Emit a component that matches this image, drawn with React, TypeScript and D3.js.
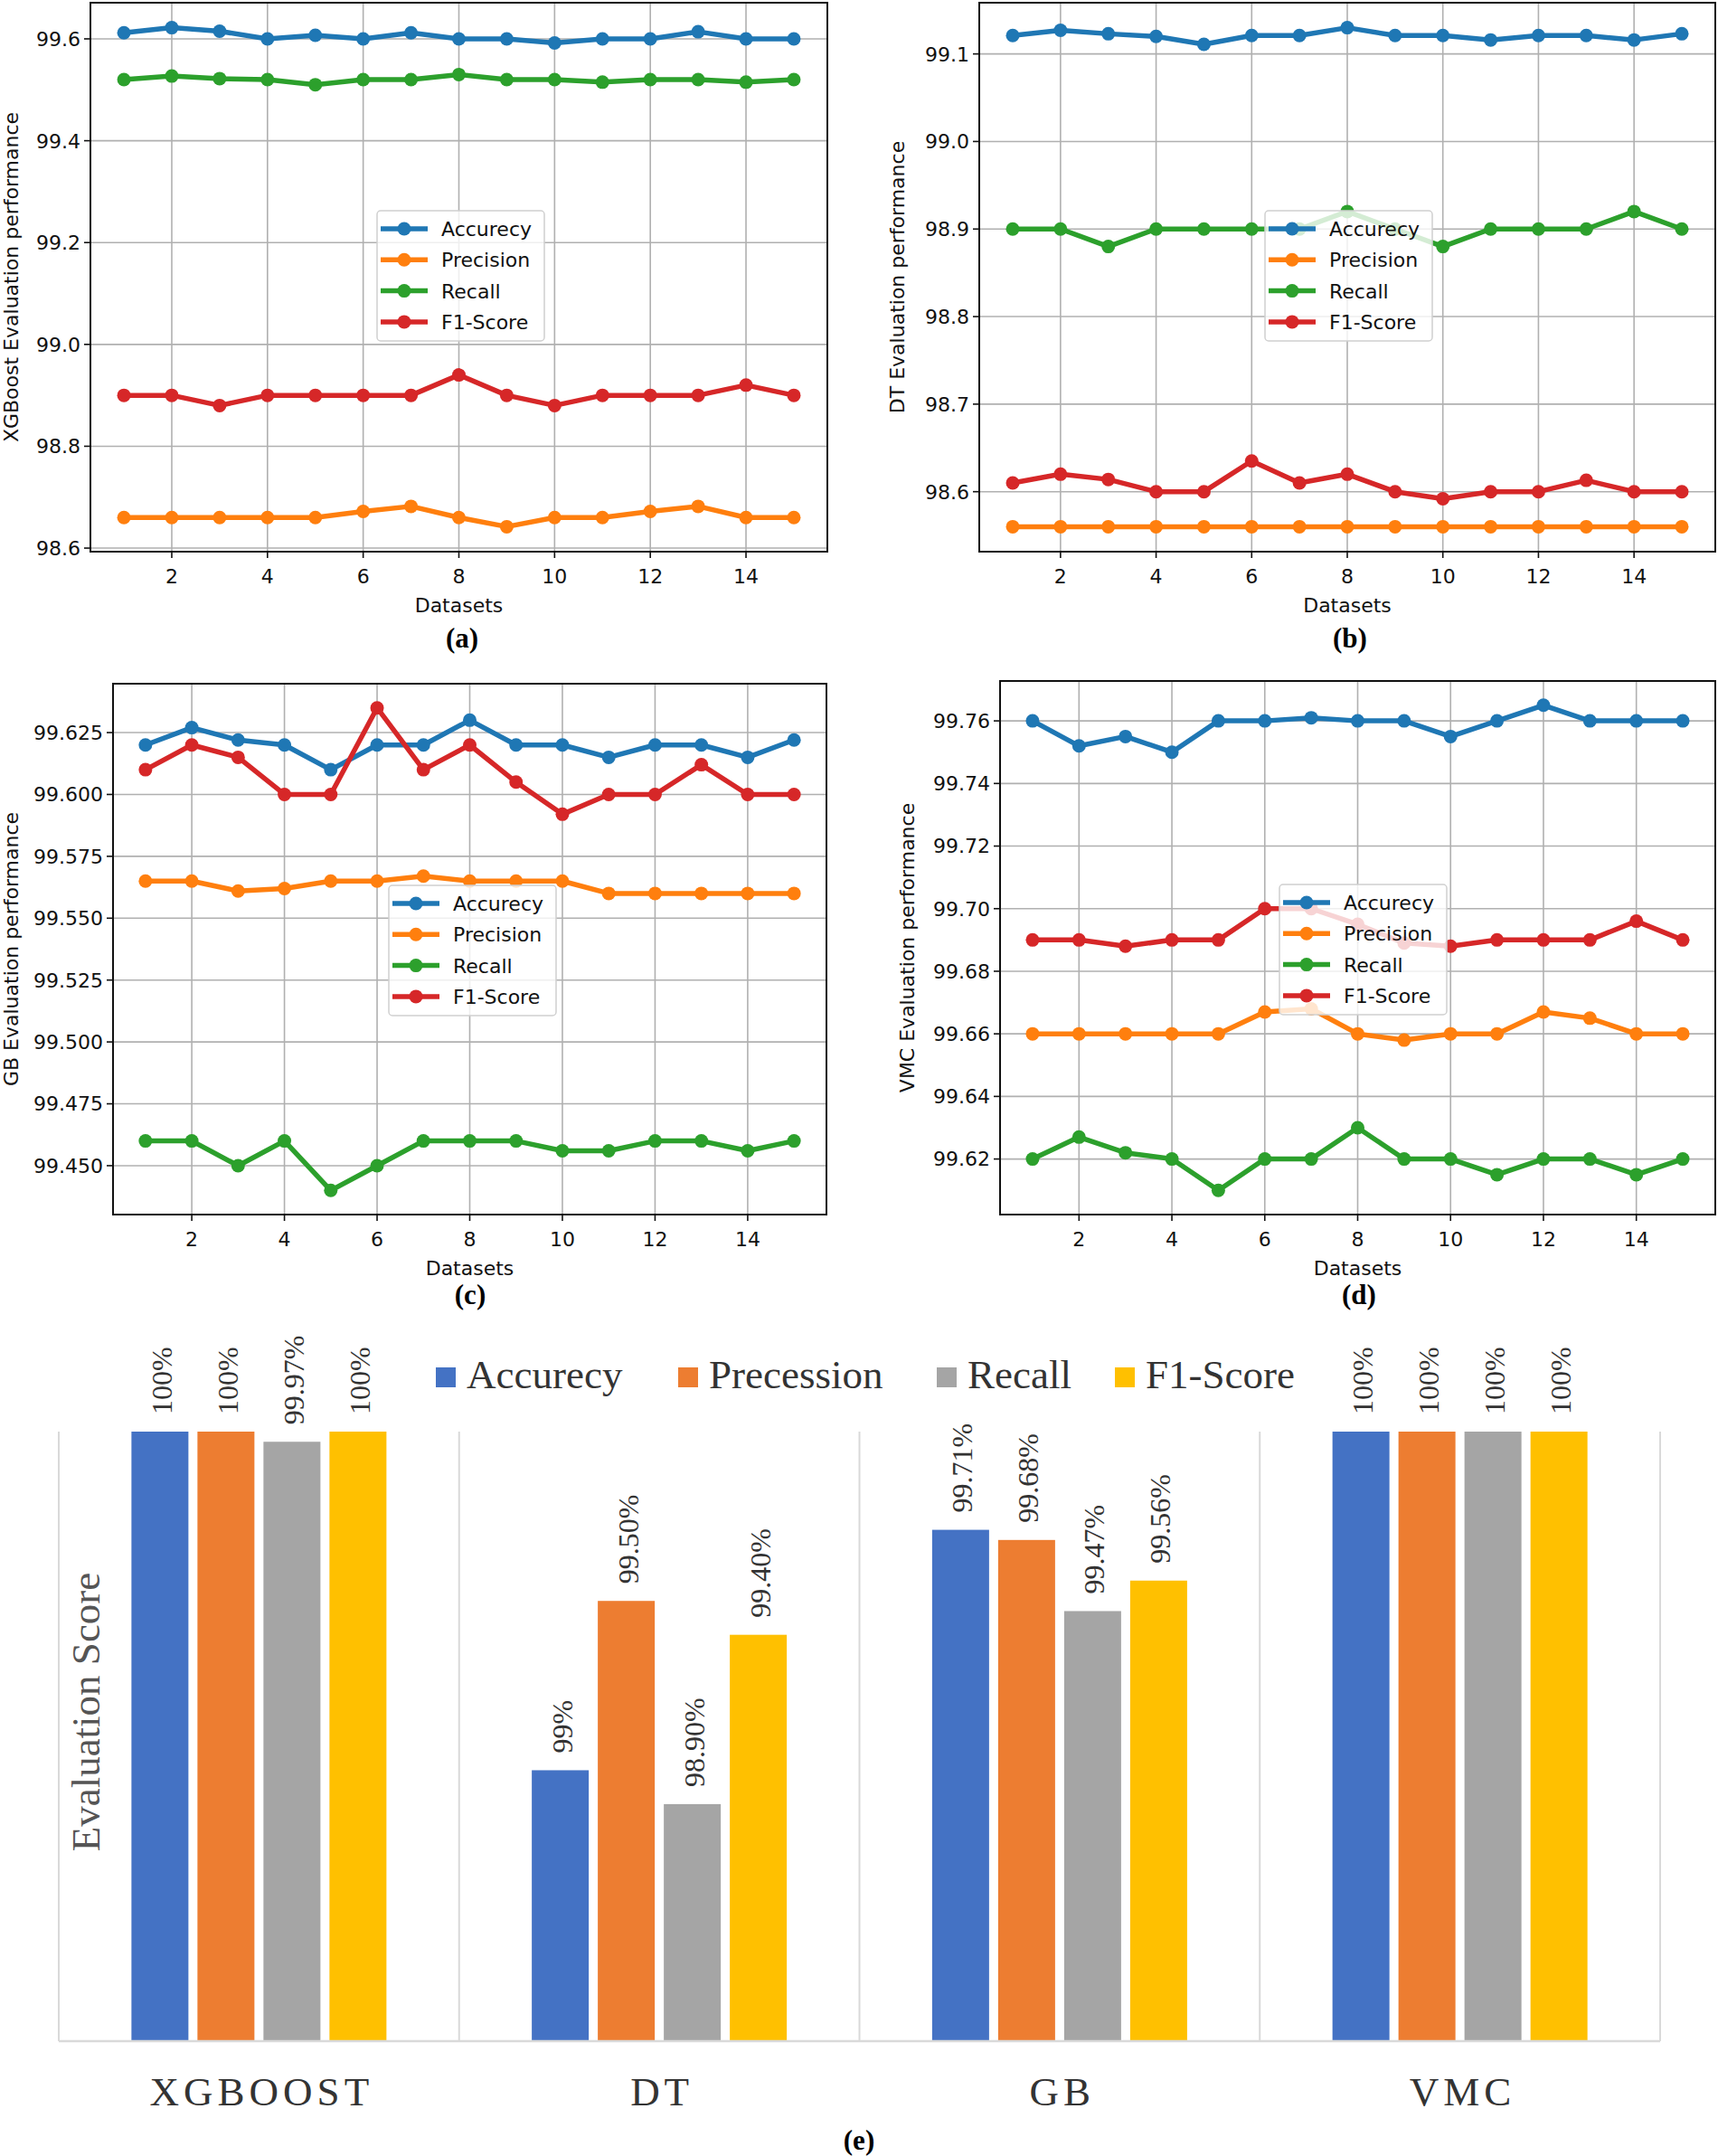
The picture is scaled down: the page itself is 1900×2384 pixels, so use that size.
import { useEffect, useRef } from 'react';
import * as d3 from 'd3';

// ---- line chart data (15 datasets, four metrics per model) ----
const datasets = [1, 2, 3, 4, 5, 6, 7, 8, 9, 10, 11, 12, 13, 14, 15];
const metricNames = ['Accurecy', 'Precision', 'Recall', 'F1-Score'];
const xTicks = [2, 4, 6, 8, 10, 12, 14];

const xgbAccuracy = [99.612, 99.622, 99.615, 99.6, 99.607, 99.6, 99.612, 99.6, 99.6, 99.592, 99.6, 99.6, 99.614, 99.6, 99.6];
const xgbPrecision = [98.66, 98.66, 98.66, 98.66, 98.66, 98.672, 98.682, 98.66, 98.642, 98.66, 98.66, 98.672, 98.682, 98.66, 98.66];
const xgbRecall = [99.52, 99.527, 99.522, 99.52, 99.51, 99.52, 99.52, 99.53, 99.52, 99.52, 99.515, 99.52, 99.52, 99.515, 99.52];
const xgbF1 = [98.9, 98.9, 98.88, 98.9, 98.9, 98.9, 98.9, 98.94, 98.9, 98.88, 98.9, 98.9, 98.9, 98.92, 98.9];
const xgbTicks = [98.6, 98.8, 99.0, 99.2, 99.4, 99.6];

const dtAccuracy = [99.121, 99.127, 99.123, 99.12, 99.111, 99.121, 99.121, 99.13, 99.121, 99.121, 99.116, 99.121, 99.121, 99.116, 99.123];
const dtPrecision = [98.56, 98.56, 98.56, 98.56, 98.56, 98.56, 98.56, 98.56, 98.56, 98.56, 98.56, 98.56, 98.56, 98.56, 98.56];
const dtRecall = [98.9, 98.9, 98.88, 98.9, 98.9, 98.9, 98.9, 98.92, 98.9, 98.88, 98.9, 98.9, 98.9, 98.92, 98.9];
const dtF1 = [98.61, 98.62, 98.614, 98.6, 98.6, 98.635, 98.61, 98.62, 98.6, 98.592, 98.6, 98.6, 98.613, 98.6, 98.6];
const dtTicks = [98.6, 98.7, 98.8, 98.9, 99.0, 99.1];

const gbAccuracy = [99.62, 99.627, 99.622, 99.62, 99.61, 99.62, 99.62, 99.63, 99.62, 99.62, 99.615, 99.62, 99.62, 99.615, 99.622];
const gbPrecision = [99.565, 99.565, 99.561, 99.562, 99.565, 99.565, 99.567, 99.565, 99.565, 99.565, 99.56, 99.56, 99.56, 99.56, 99.56];
const gbRecall = [99.46, 99.46, 99.45, 99.46, 99.44, 99.45, 99.46, 99.46, 99.46, 99.456, 99.456, 99.46, 99.46, 99.456, 99.46];
const gbF1 = [99.61, 99.62, 99.615, 99.6, 99.6, 99.635, 99.61, 99.62, 99.605, 99.592, 99.6, 99.6, 99.612, 99.6, 99.6];
const gbTicks = [99.45, 99.475, 99.5, 99.525, 99.55, 99.575, 99.6, 99.625];

const vmcAccuracy = [99.76, 99.752, 99.755, 99.75, 99.76, 99.76, 99.761, 99.76, 99.76, 99.755, 99.76, 99.765, 99.76, 99.76, 99.76];
const vmcPrecision = [99.66, 99.66, 99.66, 99.66, 99.66, 99.667, 99.668, 99.66, 99.658, 99.66, 99.66, 99.667, 99.665, 99.66, 99.66];
const vmcRecall = [99.62, 99.627, 99.622, 99.62, 99.61, 99.62, 99.62, 99.63, 99.62, 99.62, 99.615, 99.62, 99.62, 99.615, 99.62];
const vmcF1 = [99.69, 99.69, 99.688, 99.69, 99.69, 99.7, 99.7, 99.695, 99.689, 99.688, 99.69, 99.69, 99.69, 99.696, 99.69];
const vmcTicks = [99.62, 99.64, 99.66, 99.68, 99.7, 99.72, 99.74, 99.76];

// ---- bar chart data ----
const models = ['XGBOOST', 'DT', 'GB', 'VMC'];
const barMetrics = ['Accurecy', 'Precession', 'Recall', 'F1-Score'];
const xgboostScores = [100, 100, 99.97, 100];
const dtScores = [99, 99.5, 98.9, 99.4];
const gbScores = [99.71, 99.68, 99.47, 99.56];
const vmcScores = [100, 100, 100, 100];
const xgboostLabels = ['100%', '100%', '99.97%', '100%'];
const dtLabels = ['99%', '99.50%', '98.90%', '99.40%'];
const gbLabels = ['99.71%', '99.68%', '99.47%', '99.56%'];
const vmcLabels = ['100%', '100%', '100%', '100%'];

const lineColors = ['#1f77b4', '#ff7f0e', '#2ca02c', '#d62728'];
const barColors = ['#4472C4', '#ED7D31', '#A5A5A5', '#FFC000'];

const W = 1900;
const H = 2384;
const SANS = '"DejaVu Sans", sans-serif';
const SERIF = '"Liberation Serif", "Times New Roman", serif';

interface Panel {
  series: number[][];
  ticks: number[];
  fmt: string;
  yLabel: string;
  box: { left: number; right: number; top: number; bottom: number };
  yLabelX: number;
  legend: { x: number; y: number };
  tag: string;
  tagX: number;
  tagY: number;
}

const panels: Panel[] = [
  {
    series: [xgbAccuracy, xgbPrecision, xgbRecall, xgbF1], ticks: xgbTicks, fmt: '.1f',
    yLabel: 'XGBoost Evaluation performance',
    box: { left: 100, right: 915, top: 3, bottom: 610 }, yLabelX: 20,
    legend: { x: 417, y: 233 }, tag: '(a)', tagX: 511, tagY: 716,
  },
  {
    series: [dtAccuracy, dtPrecision, dtRecall, dtF1], ticks: dtTicks, fmt: '.1f',
    yLabel: 'DT Evaluation performance',
    box: { left: 1083, right: 1897, top: 3, bottom: 610 }, yLabelX: 1000,
    legend: { x: 1399, y: 233 }, tag: '(b)', tagX: 1493, tagY: 716,
  },
  {
    series: [gbAccuracy, gbPrecision, gbRecall, gbF1], ticks: gbTicks, fmt: '.3f',
    yLabel: 'GB Evaluation performance',
    box: { left: 125, right: 914, top: 756, bottom: 1343 }, yLabelX: 20,
    legend: { x: 430, y: 979 }, tag: '(c)', tagX: 520, tagY: 1442,
  },
  {
    series: [vmcAccuracy, vmcPrecision, vmcRecall, vmcF1], ticks: vmcTicks, fmt: '.2f',
    yLabel: 'VMC Evaluation performance',
    box: { left: 1106, right: 1897, top: 753, bottom: 1343 }, yLabelX: 1011,
    legend: { x: 1415, y: 978 }, tag: '(d)', tagX: 1503, tagY: 1442,
  },
];

function drawLinePanel(svg: d3.Selection<SVGSVGElement, unknown, null, undefined>, p: Panel) {
  const { left, right, top, bottom } = p.box;
  const g = svg.append('g');

  // matplotlib-style 5% margins
  const xExt = d3.extent(datasets) as [number, number];
  const xPad = (xExt[1] - xExt[0]) * 0.05;
  const x = d3.scaleLinear().domain([xExt[0] - xPad, xExt[1] + xPad]).range([left, right]);
  const all = p.series.flat();
  const yExt = d3.extent(all) as [number, number];
  const yPad = (yExt[1] - yExt[0]) * 0.05;
  const y = d3.scaleLinear().domain([yExt[0] - yPad, yExt[1] + yPad]).range([bottom, top]);

  // grid
  g.selectAll('.gx').data(xTicks).join('line')
    .attr('x1', d => x(d)).attr('x2', d => x(d)).attr('y1', top).attr('y2', bottom)
    .attr('stroke', '#b0b0b0').attr('stroke-width', 1.6);
  g.selectAll('.gy').data(p.ticks).join('line')
    .attr('x1', left).attr('x2', right).attr('y1', d => y(d)).attr('y2', d => y(d))
    .attr('stroke', '#b0b0b0').attr('stroke-width', 1.6);

  // series
  const line = d3.line<number>().x((_, i) => x(datasets[i])).y(d => y(d));
  p.series.forEach((s, si) => {
    g.append('path').datum(s)
      .attr('d', line)
      .attr('fill', 'none')
      .attr('stroke', lineColors[si])
      .attr('stroke-width', 5.5)
      .attr('stroke-linejoin', 'round');
    g.selectAll(null).data(s).join('circle')
      .attr('cx', (_, i) => x(datasets[i]))
      .attr('cy', d => y(d))
      .attr('r', 7.5)
      .attr('fill', lineColors[si]);
  });

  // frame
  g.append('rect')
    .attr('x', left).attr('y', top).attr('width', right - left).attr('height', bottom - top)
    .attr('fill', 'none').attr('stroke', '#111').attr('stroke-width', 2);

  // ticks
  g.selectAll('.tx').data(xTicks).join('line')
    .attr('x1', d => x(d)).attr('x2', d => x(d)).attr('y1', bottom).attr('y2', bottom + 7)
    .attr('stroke', '#111').attr('stroke-width', 1.6);
  g.selectAll('.txl').data(xTicks).join('text')
    .attr('x', d => x(d)).attr('y', bottom + 35)
    .attr('text-anchor', 'middle')
    .style('font-family', SANS).style('font-size', '22px').style('fill', '#111')
    .text(d => d);
  g.selectAll('.ty').data(p.ticks).join('line')
    .attr('x1', left - 7).attr('x2', left).attr('y1', d => y(d)).attr('y2', d => y(d))
    .attr('stroke', '#111').attr('stroke-width', 1.6);
  g.selectAll('.tyl').data(p.ticks).join('text')
    .attr('x', left - 11).attr('y', d => y(d)).attr('dy', '0.36em')
    .attr('text-anchor', 'end')
    .style('font-family', SANS).style('font-size', '22px').style('fill', '#111')
    .text(d => d3.format(p.fmt)(d));

  // axis labels
  g.append('text')
    .attr('x', (left + right) / 2).attr('y', bottom + 67)
    .attr('text-anchor', 'middle')
    .style('font-family', SANS).style('font-size', '22px').style('fill', '#111')
    .text('Datasets');
  g.append('text')
    .attr('transform', `translate(${p.yLabelX},${(top + bottom) / 2}) rotate(-90)`)
    .attr('text-anchor', 'middle')
    .style('font-family', SANS).style('font-size', '22px').style('fill', '#111')
    .text(p.yLabel);

  // legend
  const lg = g.append('g').attr('transform', `translate(${p.legend.x},${p.legend.y})`);
  lg.append('rect')
    .attr('width', 185).attr('height', 144).attr('rx', 4)
    .attr('fill', 'rgba(255,255,255,0.8)').attr('stroke', '#d0d0d0').attr('stroke-width', 1.5);
  metricNames.forEach((name, i) => {
    const cy = 20 + i * 34.3;
    lg.append('line')
      .attr('x1', 4).attr('x2', 56).attr('y1', cy).attr('y2', cy)
      .attr('stroke', lineColors[i]).attr('stroke-width', 5.5);
    lg.append('circle').attr('cx', 30).attr('cy', cy).attr('r', 7.5).attr('fill', lineColors[i]);
    lg.append('text')
      .attr('x', 71).attr('y', cy).attr('dy', '0.36em')
      .style('font-family', SANS).style('font-size', '22px').style('fill', '#111')
      .text(name);
  });

  svg.append('text')
    .attr('x', p.tagX).attr('y', p.tagY)
    .attr('text-anchor', 'middle')
    .style('font-family', SERIF).style('font-size', '31px').style('font-weight', 'bold')
    .text(p.tag);
}

function drawBars(svg: d3.Selection<SVGSVGElement, unknown, null, undefined>) {
  const left = 65, right = 1836, top = 1583, bottom = 2257;
  const scores = [xgboostScores, dtScores, gbScores, vmcScores];
  const labels = [xgboostLabels, dtLabels, gbLabels, vmcLabels];
  const groupW = 282;

  const x0 = d3.scaleBand().domain(models).range([left, right]).padding(0);
  const x1 = d3.scaleBand().domain(barMetrics).range([-groupW / 2, groupW / 2]).paddingInner(0.137);
  const y = d3.scaleLinear().domain([98.2, 100]).range([bottom, top]);

  const g = svg.append('g');

  // category separators
  const seps = [...models.map(m => x0(m) as number), right];
  g.selectAll('.sep').data(seps).join('line')
    .attr('x1', d => d).attr('x2', d => d).attr('y1', top).attr('y2', bottom)
    .attr('stroke', '#d9d9d9').attr('stroke-width', 2);

  const rows = models.flatMap((m, mi) => barMetrics.map((k, ki) => ({
    model: m, metric: k, ki, value: scores[mi][ki], label: labels[mi][ki],
  })));
  const cx = (d: { model: string; metric: string }) =>
    (x0(d.model) as number) + x0.bandwidth() / 2 + (x1(d.metric) as number);

  g.selectAll('.bar').data(rows).join('rect')
    .attr('x', d => cx(d))
    .attr('y', d => y(d.value))
    .attr('width', x1.bandwidth())
    .attr('height', d => bottom - y(d.value))
    .attr('fill', d => barColors[d.ki]);

  g.selectAll('.val').data(rows).join('text')
    .attr('transform', d => `translate(${cx(d) + x1.bandwidth() / 2 + 13},${y(d.value) - 19}) rotate(-90)`)
    .style('font-family', SERIF).style('font-size', '32px').style('fill', '#333')
    .text(d => d.label);

  // baseline
  g.append('line')
    .attr('x1', left).attr('x2', right).attr('y1', bottom).attr('y2', bottom)
    .attr('stroke', '#d9d9d9').attr('stroke-width', 2.5);

  // category labels
  g.selectAll('.cat').data(models).join('text')
    .attr('x', d => (x0(d) as number) + x0.bandwidth() / 2 + 3)
    .attr('y', 2328)
    .attr('text-anchor', 'middle')
    .style('font-family', SERIF).style('font-size', '45px').style('letter-spacing', '5px')
    .style('fill', '#333')
    .text(d => d);

  // y title
  g.append('text')
    .attr('transform', `translate(110,1893) rotate(-90)`)
    .attr('text-anchor', 'middle')
    .style('font-family', SERIF).style('font-size', '45px').style('fill', '#555')
    .text('Evaluation Score');

  // legend
  const legendX = [482, 750, 1036, 1233];
  barMetrics.forEach((k, i) => {
    g.append('rect')
      .attr('x', legendX[i]).attr('y', 1512).attr('width', 22).attr('height', 22)
      .attr('fill', barColors[i]);
    g.append('text')
      .attr('x', legendX[i] + 34).attr('y', 1535)
      .style('font-family', SERIF).style('font-size', '45px').style('fill', '#333')
      .text(k);
  });

  svg.append('text')
    .attr('x', 950).attr('y', 2377)
    .attr('text-anchor', 'middle')
    .style('font-family', SERIF).style('font-size', '31px').style('font-weight', 'bold')
    .text('(e)');
}

const App = () => {
  const svgRef = useRef<SVGSVGElement>(null);

  useEffect(() => {
    if (!svgRef.current) return;
    const svg = d3.select(svgRef.current);
    svg.selectAll('*').remove();
    svg.append('rect').attr('width', W).attr('height', H).attr('fill', '#fff');
    panels.forEach(p => drawLinePanel(svg, p));
    drawBars(svg);
  }, []);

  return (
    <div style={{ position: 'absolute', left: 0, top: 0 }}>
      <svg ref={svgRef} width={W} height={H} style={{ display: 'block' }} />
    </div>
  );
};

export default App;
